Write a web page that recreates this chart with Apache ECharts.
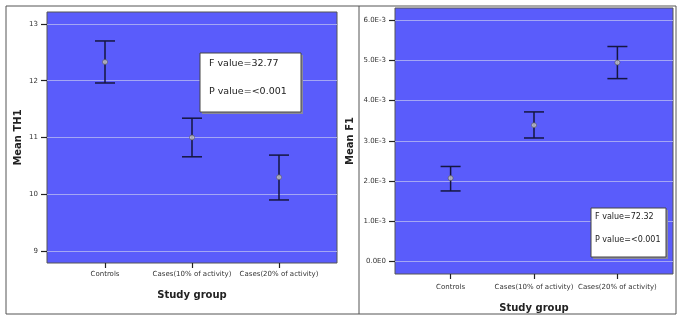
<!DOCTYPE html>
<html>
<head>
<meta charset="utf-8">
<script src="https://cdn.jsdelivr.net/npm/echarts@6/dist/echarts.min.js"></script>
<style>
  html, body { margin: 0; padding: 0; background: #fff; }
  #chart { width: 685px; height: 322px; }
</style>
</head>
<body>
<div id="chart"></div>
<script>
// Study groups on the x axis
const categories = ['Controls', 'Cases(10% of activity)', 'Cases(20% of activity)'];

// Mean TH1 with 95% CI
const th1Mean = [12.33, 11.00, 10.30];
const th1Low = [11.96, 10.66, 9.90];
const th1High = [12.70, 11.34, 10.69];
const th1Ticks = [9, 10, 11, 12, 13];

// Mean F1 with 95% CI
const f1Mean = [0.00207, 0.00339, 0.00495];
const f1Low = [0.00175, 0.00307, 0.00455];
const f1High = [0.00236, 0.00372, 0.00535];
const f1Ticks = [0, 0.001, 0.002, 0.003, 0.004, 0.005, 0.006];

// ANOVA annotations
const th1Stats = ['F value=32.77', 'P value=<0.001'];
const f1Stats = ['F value=72.32', 'P value=<0.001'];

const FONT = 'DejaVu Sans';
const PLOT_BG = '#5a5cfb';
const GRID_LINE = '#a4a6f4';
const BAR_COLOR = '#15163f';
const TICK = { color: '#222', width: 1.2 };
const catIdx = categories.map((c, i) => i);

function errorBarRender(params, api) {
  const x = api.value(0);
  const lo = api.coord([x, api.value(1)]);
  const hi = api.coord([x, api.value(2)]);
  const half = 10;
  const style = { stroke: BAR_COLOR, lineWidth: 1.5 };
  return {
    type: 'group',
    children: [
      { type: 'line', shape: { x1: lo[0], y1: lo[1], x2: hi[0], y2: hi[1] }, style },
      { type: 'line', shape: { x1: hi[0] - half, y1: hi[1], x2: hi[0] + half, y2: hi[1] }, style },
      { type: 'line', shape: { x1: lo[0] - half, y1: lo[1], x2: lo[0] + half, y2: lo[1] }, style }
    ]
  };
}

function xAxisFor(gridIndex, labelMargin) {
  return {
    type: 'value', gridIndex, min: -2 / 3, max: 8 / 3, position: 'bottom',
    name: 'Study group', nameLocation: 'middle', nameGap: labelMargin + 19,
    nameTextStyle: { fontFamily: FONT, fontWeight: 'bold', fontSize: 10, color: '#222' },
    axisLine: { show: false, onZero: false },
    splitLine: { show: false },
    axisTick: { show: true, customValues: catIdx, length: 5, lineStyle: TICK },
    axisLabel: {
      customValues: catIdx, margin: labelMargin,
      fontFamily: FONT, fontSize: 7, color: '#333',
      formatter: v => categories[Math.round(v)]
    }
  };
}

function yAxisFor(gridIndex, min, max, ticks, name, nameGap, fmt) {
  return {
    type: 'value', gridIndex, min, max, position: 'left',
    name, nameLocation: 'middle', nameGap,
    nameTextStyle: { fontFamily: FONT, fontWeight: 'bold', fontSize: 10, color: '#222' },
    axisLine: { show: false, onZero: false },
    axisTick: { show: true, customValues: ticks, length: 6, lineStyle: TICK },
    axisLabel: { customValues: ticks, margin: 9, fontFamily: FONT, fontSize: 7, color: '#333', formatter: fmt },
    splitLine: { show: true, lineStyle: { color: GRID_LINE, width: 1 } }
  };
}

function statsBox(x, y, w, h, lines, fontSize, padX, lineY) {
  return {
    type: 'group', x, y, z: 100,
    children: [
      { type: 'rect', z: 100, shape: { x: 2, y: 2, width: w, height: h }, style: { fill: '#8a8a9a' } },
      { type: 'rect', z: 101, shape: { x: 0, y: 0, width: w, height: h }, style: { fill: '#fff', stroke: '#444', lineWidth: 1 } },
      ...lines.map((t, i) => ({
        type: 'text', z: 102, x: padX, y: lineY[i],
        style: { text: t, fontFamily: FONT, fontSize, fill: '#222', verticalAlign: 'middle' }
      }))
    ]
  };
}

const chart = echarts.init(document.getElementById('chart'), null, { renderer: 'canvas' });
chart.setOption({
  animation: false,
  backgroundColor: '#fff',
  grid: [
    { left: 47, top: 12, width: 290, height: 251, show: true, backgroundColor: PLOT_BG, borderColor: '#555', borderWidth: 1 },
    { left: 395, top: 8, width: 278, height: 266, show: true, backgroundColor: PLOT_BG, borderColor: '#555', borderWidth: 1 }
  ],
  xAxis: [xAxisFor(0, 8), xAxisFor(1, 10)],
  yAxis: [
    yAxisFor(0, 8.79, 13.21, th1Ticks, 'Mean TH1', 24, v => String(Math.round(v))),
    yAxisFor(1, -0.00032, 0.00631, f1Ticks, 'Mean F1', 40, v => {
      const k = Math.round(v * 1000);
      return k === 0 ? '0.0E0' : k.toFixed(1) + 'E-3';
    })
  ],
  series: [
    {
      type: 'custom', xAxisIndex: 0, yAxisIndex: 0, renderItem: errorBarRender,
      data: catIdx.map(i => [i, th1Low[i], th1High[i]]), z: 3
    },
    {
      type: 'scatter', xAxisIndex: 0, yAxisIndex: 0, symbol: 'circle', symbolSize: 5,
      itemStyle: { color: '#c9c9c9', borderColor: '#555', borderWidth: 0.8 },
      data: catIdx.map(i => [i, th1Mean[i]]), z: 4
    },
    {
      type: 'custom', xAxisIndex: 1, yAxisIndex: 1, renderItem: errorBarRender,
      data: catIdx.map(i => [i, f1Low[i], f1High[i]]), z: 3
    },
    {
      type: 'scatter', xAxisIndex: 1, yAxisIndex: 1, symbol: 'circle', symbolSize: 5,
      itemStyle: { color: '#c9c9c9', borderColor: '#555', borderWidth: 0.8 },
      data: catIdx.map(i => [i, f1Mean[i]]), z: 4
    }
  ],
  graphic: [
    { type: 'rect', shape: { x: 6, y: 6, width: 670, height: 308 }, style: { fill: 'none', stroke: '#555', lineWidth: 1 }, z: 10 },
    { type: 'line', shape: { x1: 359, y1: 6, x2: 359, y2: 314 }, style: { stroke: '#555', lineWidth: 1 }, z: 10 },
    statsBox(200, 53, 101, 59, th1Stats, 9.5, 9, [11, 39]),
    statsBox(591, 208, 75, 49, f1Stats, 8, 4, [9, 32])
  ]
});
</script>
</body>
</html>
